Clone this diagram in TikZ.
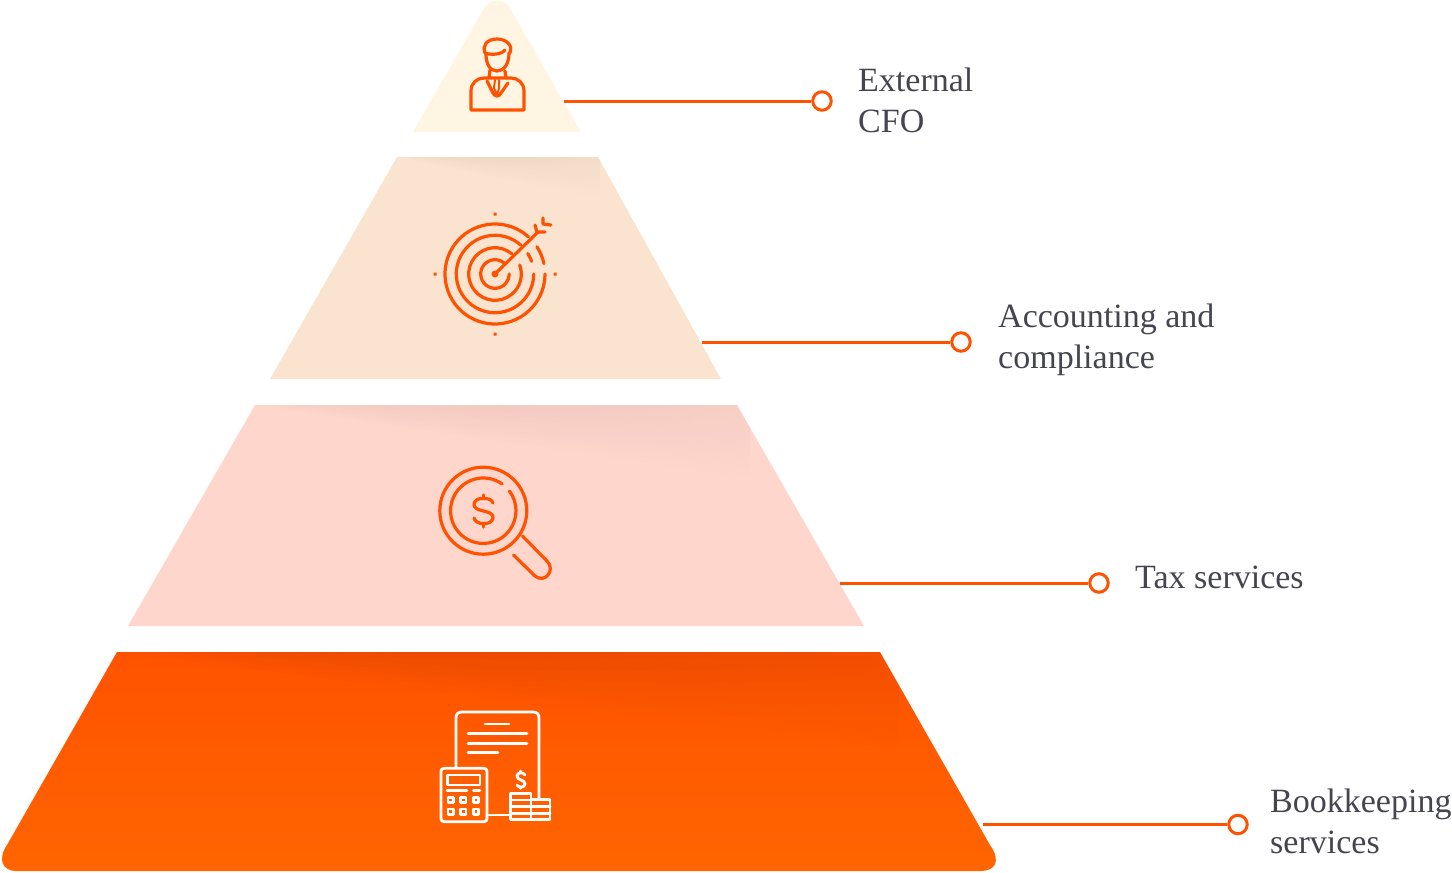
\documentclass[tikz,border=0pt]{standalone}
\usepackage{fontspec}
\setmainfont{Liberation Serif}
\usetikzlibrary{fadings}
\definecolor{leadorange}{HTML}{FF5200}
\definecolor{baseorange}{HTML}{FF6500}
\definecolor{labelgray}{HTML}{45454F}
\definecolor{tieryellow}{HTML}{FFF5E2}
\definecolor{tierpeach}{HTML}{FBE4CF}
\definecolor{tierpink}{HTML}{FFD6CC}
\begin{tikzfadingfrompicture}[name=fan,x=1bp,y=1bp]
  \fill[transparent!100] (-50,-50) rectangle (50,50);
  \foreach \k in {40,39,...,1} {
    \pgfmathtruncatemacro\tk{\k*2.5}
    \pgfmathtruncatemacro\tm{\k*1.25+50}
    \shade[left color=transparent!\tk,right color=transparent!100,middle color=transparent!\tm] (-50,50) -- (46,50) -- (46,50-2.5*\k) -- cycle;
  }
\end{tikzfadingfrompicture}
\begin{document}
\begin{tikzpicture}[x=1pt,y=-1pt,
    icon/.style={draw=leadorange,line width=3.2pt,line cap=round,line join=round},
    whiteicon/.style={draw=white,line width=2.8pt,line cap=round,line join=round},
    lead/.style={draw=leadorange,line width=3pt},
    dot/.style={circle,draw=leadorange,line width=3pt,fill=white,minimum size=18.5pt,inner sep=0pt},
    lbl/.style={anchor=west,inner sep=0pt,align=left,text=labelgray,font=\fontsize{34}{41}\selectfont}]
  \useasboundingbox (0,0) rectangle (1452,873);
  % tiers
  \fill[tieryellow] (413,132) -- (484,8) .. controls (490,-2) and (504,-2) .. (510,8) -- (581,132) -- cycle;
  \fill[tierpeach] (397,157) -- (598,157) -- (721,379) -- (270,379) -- cycle;
  \fill[tierpink] (255,405) -- (737,405) -- (864,626) -- (128,626) -- cycle;
  \shade[top color=leadorange,bottom color=baseorange] (117,652) -- (880,652) -- (990,845) .. controls (1002,862) and (994,871) .. (981,871) -- (16,871) .. controls (3,871) and (-3,860) .. (7,845) -- cycle;
  % shadows
  \begin{scope}
    \clip (397,157) -- (598,157) -- (721,379) -- (270,379) -- cycle;
    \fill[black,opacity=.2,path fading=fan] (397,157) rectangle (600,198);
  \end{scope}
  \begin{scope}
    \clip (255,405) -- (737,405) -- (864,626) -- (128,626) -- cycle;
    \fill[black,opacity=.22,path fading=fan] (255,405) rectangle (750,477);
  \end{scope}
  \begin{scope}
    \clip (117,652) -- (880,652) -- (1005,871) -- (0,871) -- cycle;
    \fill[black,opacity=.3,path fading=fan] (117,652) rectangle (900,747);
  \end{scope}
  % person
  \draw[icon] (485,53) .. controls (482,47) and (486,39) .. (497,39) .. controls (508,39) and (513,47) .. (510,53);
  \draw[icon] (485,53) .. controls (490,55) and (501,55) .. (505,50);
  \draw[icon] (486,54) .. controls (486,64) and (490,71) .. (497,71) .. controls (504,71) and (509,64) .. (509,53);
  \draw[icon] (490,70) -- (489,78) (505,71) -- (506,78);
  \draw[icon] (471,110) -- (471,91) .. controls (471,83) and (477,78) .. (484,78) -- (511,78) .. controls (518,78) and (524,83) .. (524,91) -- (524,110) -- cycle;
  \draw[icon] (487,81) -- (493,93) .. controls (495,97) and (499,97) .. (501,93) -- (508,83);
  \draw[icon,line width=2pt] (495,80) -- (494,88) -- (497,95) -- (499,88) -- (499,80);
  % target
  \foreach \r/\a/\b in {50/48/360,38.7/48/360,26.3/50/380,14.3/50/360,50/12/33,38.7/19/32}
    \draw[icon] (495,274) ++(-\a:\r) arc[start angle=-\a,end angle=-\b,radius=\r];
  \fill[leadorange] (495,274) circle (3.5);
  \draw[icon] (495,274) -- (538,232);
  \draw[icon] (535,225) -- (537,232) -- (545,232) (543,218) -- (543,224) -- (551,225);
  \fill[leadorange] (493.5,212.5) rectangle ++(3,3) (433.5,272.5) rectangle ++(3,3) (553.5,272.5) rectangle ++(3,3) (493.5,332.5) rectangle ++(3,3);
  % magnifier
  \draw[icon] (483.3,510.7) circle (43.5);
  \draw[icon] (483.3,510.7) ++(-55:32.7) arc[start angle=-55,end angle=-397,radius=32.7];
  \draw[icon] (493,503) .. controls (492,497) and (475,496) .. (474,504) .. controls (473,513) and (494,509) .. (493,518) .. controls (492,526) and (475,525) .. (474,518);
  \draw[icon] (483.3,495) -- (483.3,498) (483.3,524) -- (483.3,527);
  \draw[icon] (522.5,536) -- (547,561) .. controls (556,570) and (545,584) .. (535,576) -- (513.5,555);
  % bill and calculator
  \draw[whiteicon] (456,768) -- (456,718) .. controls (456,714) and (458,712) .. (462,712) -- (533,712) .. controls (537,712) and (539,714) .. (539,718) -- (539,798);
  \draw[whiteicon] (487,815) -- (510,815);
  \draw[whiteicon] (485,724) -- (509,724) (468,733.7) -- (527,733.7) (468,743.3) -- (527,743.3) (468,752.7) -- (498,752.7);
  \draw[whiteicon,rounded corners=3pt] (441,768.3) rectangle (487,821.7);
  \draw[whiteicon] (447.3,775) rectangle (480,785);
  \draw[whiteicon] (447,790.7) -- (467,790.7) (473.3,790.7) -- (480,790.7);
  \foreach \x in {450.7,463.3,476}
    \foreach \y in {800,811.7}
      \draw[whiteicon] (\x-2.7,\y-2.7) rectangle (\x+2.7,\y+2.7);
  \draw[whiteicon] (510.7,793.3) rectangle (531,819.3);
  \draw[whiteicon] (531,799.3) rectangle (550,819.3);
  \draw[whiteicon] (510.7,800) -- (531,800) (510.7,806.7) -- (550,806.7) (510.7,813.3) -- (550,813.3);
  \draw[whiteicon] (525,775) .. controls (524,772) and (517,772) .. (517,776) .. controls (517,781) and (525,779) .. (525,784) .. controls (525,788) and (518,788) .. (517,785);
  \draw[whiteicon] (520.7,771) -- (520.7,772.5) (520.7,787) -- (520.7,788.5);
  % leaders
  \coordinate (TA) at (564,101);
  \coordinate (TB) at (702,342);
  \coordinate (TC) at (840,583);
  \coordinate (TD) at (983,824.5);
  \node[dot] (DA) at (822,101) {};
  \node[dot] (DB) at (961,342) {};
  \node[dot] (DC) at (1099,583) {};
  \node[dot] (DD) at (1238,824.5) {};
  \draw[lead] (TA) -- (DA);
  \draw[lead] (TB) -- (DB);
  \draw[lead] (TC) -- (DC);
  \draw[lead] (TD) -- (DD);
  \node[lbl] (CFO) at (858,100) {External\\CFO};
  \node[lbl] (ACC) at (998,340) {Accounting and\\compliance};
  \node[lbl] (TAX) at (1135,577) {Tax services};
  \node[lbl] (BOOK) at (1270,821) {Bookkeeping\\services};
\end{tikzpicture}
\end{document}
